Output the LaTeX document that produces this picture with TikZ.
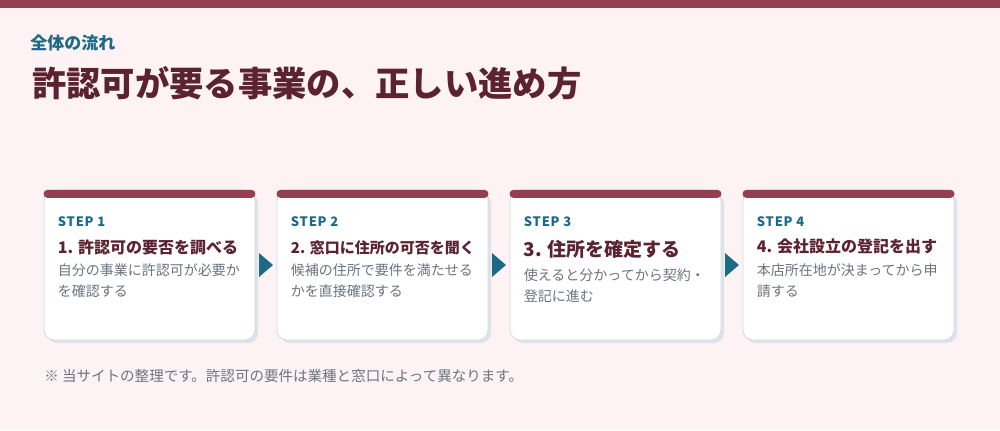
\documentclass[tikz,border=0pt]{standalone}
\usepackage{fontspec}
\setmainfont{Noto Sans CJK JP}
\usetikzlibrary{positioning,calc,shadows}

\definecolor{pagebg}{HTML}{FDF2F4}
\definecolor{barred}{HTML}{933F4F}
\definecolor{maroon}{HTML}{5B2231}
\definecolor{tealblue}{HTML}{1D6A87}
\definecolor{bodygray}{HTML}{6B7480}
\definecolor{cardedge}{HTML}{D3DAE3}
\definecolor{cardshadow}{HTML}{DCE3EB}

\tikzset{
  stepcard/.style={draw=cardedge, fill=white, line width=0.6pt, rounded corners=7.5pt,
    minimum width=158.25pt, minimum height=112.5pt, inner sep=0pt,
    drop shadow={shadow xshift=2.25pt, shadow yshift=-2.25pt, fill=cardshadow, opacity=1}},
  stepbar/.style={fill=barred, rounded corners=3pt, minimum width=159pt, minimum height=6pt, inner sep=0pt, anchor=north},
  steplabel/.style={anchor=west, inner sep=0pt, text=tealblue, font=\fontsize{9.75pt}{12pt}\selectfont\bfseries\addfontfeature{LetterSpace=6}},
  stephead/.style={anchor=west, inner sep=0pt, text=maroon, font=\bfseries},
  stepbody/.style={anchor=north west, inner sep=0pt, align=left, text=bodygray, font=\fontsize{10.5pt}{15.75pt}\selectfont},
  steparrow/.style={fill=tealblue},
}

\begin{document}
\begin{tikzpicture}[x=0.75pt,y=-0.75pt]
  \useasboundingbox (0,0) rectangle (1000,430);
  \fill[pagebg] (0,0) rectangle (1000,430);
  \fill[barred] (0,0) rectangle (1000,8);

  \node[anchor=west, inner sep=0pt, text=tealblue, font=\fontsize{12.75pt}{15pt}\selectfont\bfseries] (kicker) at (30,43) {全体の流れ};
  \node[anchor=west, inner sep=0pt, text=maroon, font=\fontsize{25.75pt}{30pt}\selectfont\bfseries] (title) at (32,83) {許認可が要る事業の、正しい進め方};

  % cards
  \node[stepcard] (s1) at (149.5,265) {};
  \node[stepcard, right=15.9pt of s1] (s2) {};
  \node[stepcard, right=15.9pt of s2] (s3) {};
  \node[stepcard, right=15.9pt of s3] (s4) {};

  \node[stepbar] (b1) at (s1.north) {};
  \node[stepbar] (b2) at (s2.north) {};
  \node[stepbar] (b3) at (s3.north) {};
  \node[stepbar] (b4) at (s4.north) {};

  \node[steplabel] (l1) at ([xshift=10.5pt,yshift=-24pt]s1.north west) {STEP 1};
  \node[steplabel] (l2) at ([xshift=10.5pt,yshift=-24pt]s2.north west) {STEP 2};
  \node[steplabel] (l3) at ([xshift=10.5pt,yshift=-24pt]s3.north west) {STEP 3};
  \node[steplabel] (l4) at ([xshift=10.5pt,yshift=-24pt]s4.north west) {STEP 4};

  \node[stephead, font=\fontsize{12pt}{14pt}\selectfont\bfseries] (h1) at ([xshift=10.5pt,yshift=-43.5pt]s1.north west) {1. 許認可の要否を調べる};
  \node[stephead, font=\fontsize{11.25pt}{14pt}\selectfont\bfseries] (h2) at ([xshift=10.5pt,yshift=-43.5pt]s2.north west) {2. 窓口に住所の可否を聞く};
  \node[stephead, font=\fontsize{14.25pt}{17pt}\selectfont\bfseries] (h3) at ([xshift=10.5pt,yshift=-45pt]s3.north west) {3. 住所を確定する};
  \node[stephead, font=\fontsize{12pt}{14pt}\selectfont\bfseries] (h4) at ([xshift=10.5pt,yshift=-42.75pt]s4.north west) {4. 会社設立の登記を出す};

  \node[stepbody] (t1) at ([xshift=10.5pt,yshift=-55.5pt]s1.north west) {自分の事業に許認可が必要か\\を確認する};
  \node[stepbody] (t2) at ([xshift=10.5pt,yshift=-55.5pt]s2.north west) {候補の住所で要件を満たせる\\かを直接確認する};
  \node[stepbody] (t3) at ([xshift=10.5pt,yshift=-59pt]s3.north west) {使えると分かってから契約・\\登記に進む};
  \node[stepbody] (t4) at ([xshift=10.5pt,yshift=-55.5pt]s4.north west) {本店所在地が決まってから申\\請する};

  % arrows between cards
  \coordinate (m12) at ($(s1.east)!0.5!(s2.west)$);
  \coordinate (m23) at ($(s2.east)!0.5!(s3.west)$);
  \coordinate (m34) at ($(s3.east)!0.5!(s4.west)$);
  \fill[steparrow] ([xshift=-5.25pt,yshift=9pt]m12) -- ([xshift=5.25pt]m12) -- ([xshift=-5.25pt,yshift=-9pt]m12) -- cycle;
  \fill[steparrow] ([xshift=-5.25pt,yshift=9pt]m23) -- ([xshift=5.25pt]m23) -- ([xshift=-5.25pt,yshift=-9pt]m23) -- cycle;
  \fill[steparrow] ([xshift=-5.25pt,yshift=9pt]m34) -- ([xshift=5.25pt]m34) -- ([xshift=-5.25pt,yshift=-9pt]m34) -- cycle;

  \node[anchor=west, inner sep=0pt, text=bodygray, font=\fontsize{10.9pt}{13pt}\selectfont] (note) at (44,376) {※ 当サイトの整理です。許認可の要件は業種と窓口によって異なります。};
\end{tikzpicture}
\end{document}
